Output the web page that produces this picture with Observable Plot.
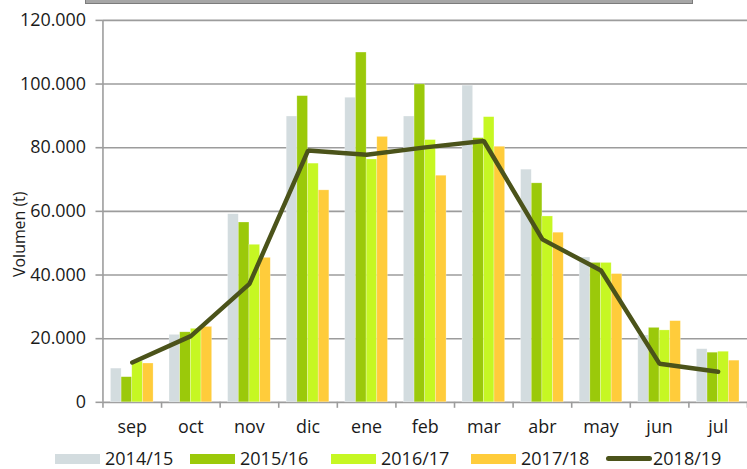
<!DOCTYPE html>
<html>
<head>
<meta charset="utf-8">
<script src="https://cdn.jsdelivr.net/npm/d3@7"></script>
<script src="https://cdn.jsdelivr.net/npm/@observablehq/plot@0.6"></script>
<style>
  html, body { margin: 0; padding: 0; background: #fff; }
  #wrap { position: relative; width: 747px; height: 469px; overflow: hidden; font-family: "Open Sans", sans-serif; color: #1a1a1a; }
  #topbox { position: absolute; left: 85px; top: -4px; width: 606px; height: 6px; background: #a6a6a6; border: 1.5px solid #7c7c7c; }
  #legend { position: absolute; left: 0; top: 448px; width: 747px; height: 21px; font-size: 18px; line-height: 21px; }
  .item { position: absolute; top: 0; display: flex; align-items: center; gap: 5px; height: 21px; white-space: nowrap; }
  .sw { width: 45px; height: 10px; }
  .ln { width: 46px; height: 5px; border-radius: 3px; }
</style>
</head>
<body>
<div id="wrap">
  <div id="chart"></div>
  <div id="topbox"></div>
  <div id="legend"></div>
</div>
<script>
const months = ["sep","oct","nov","dic","ene","feb","mar","abr","may","jun","jul"];
const seriesNames = ["2014/15","2015/16","2016/17","2017/18"];
const lineName = "2018/19";
const v1415 = [10600, 21200, 59100, 89800, 95700, 89800, 99500, 73100, 45500, 21000, 16700];
const v1516 = [7900, 22000, 56500, 96200, 109900, 99900, 83000, 68800, 43800, 23400, 15600];
const v1617 = [12800, 23100, 49500, 75000, 76300, 82400, 89600, 58400, 43800, 22600, 15900];
const v1718 = [12200, 23700, 45400, 66600, 83400, 71200, 80300, 53300, 40300, 25500, 13100];
const v1819 = [12500, 20800, 37200, 79100, 77800, 80100, 82100, 51200, 41400, 12100, 9600];
const yTicks = [0, 20000, 40000, 60000, 80000, 100000, 120000];

const barColors = ["#d3dcdf", "#9bc90a", "#c6f723", "#ffcc3b"];
const lineColor = "#4b531a";
const gridColor = "#9c9c9c";

const seriesValues = [v1415, v1516, v1617, v1718];
const pad = 0.136, bw = 0.182;
const bars = [];
seriesValues.forEach((vals, k) => {
  vals.forEach((v, i) => {
    const x1 = i - 0.5 + pad + k * bw;
    bars.push({series: seriesNames[k], month: months[i], x1, x2: x1 + bw, value: v});
  });
});
const lineData = v1819.map((v, i) => ({i, value: v}));
const boundaries = d3.range(months.length + 1).map(i => i - 0.5);

const fmt = d3.formatLocale({decimal: ",", thousands: ".", grouping: [3], currency: ["", "€"]}).format(",");

const chart = Plot.plot({
  width: 751,
  height: 446,
  marginLeft: 103,
  marginRight: 0,
  marginTop: 20,
  marginBottom: 42,
  x: {domain: [-0.5, months.length - 0.5], axis: null},
  y: {domain: [0, 120000], axis: null},
  color: {domain: seriesNames, range: barColors},
  style: {fontFamily: "'Open Sans', sans-serif", fontSize: "18px", color: "#1a1a1a", background: "transparent", overflow: "visible"},
  marks: [
    Plot.gridY(yTicks, {stroke: gridColor, strokeOpacity: 1, strokeWidth: 1.6}),
    Plot.rectY(bars, {x1: "x1", x2: "x2", y: "value", fill: "series", stroke: "#ffffff", strokeOpacity: 0.45, strokeWidth: 0.6}),
    Plot.line(lineData, {x: "i", y: "value", stroke: lineColor, strokeWidth: 4.5, strokeLinecap: "round", strokeLinejoin: "miter"}),
    Plot.ruleX([-0.5], {y1: 0, y2: 120000, stroke: gridColor, strokeWidth: 1.6}),
    Plot.axisY(yTicks, {label: null, tickSize: 7, tickPadding: 10, tickFormat: fmt, stroke: gridColor, strokeWidth: 1.6, fontSize: 18}),
    Plot.axisX(boundaries, {label: null, tickSize: 6, tickFormat: () => "", stroke: gridColor, strokeWidth: 1.6}),
    Plot.axisX(d3.range(months.length), {label: null, tickSize: 0, tickPadding: 18, tickFormat: i => months[i], fontSize: 18}),
    Plot.text(["Volumen (t)"], {frameAnchor: "left", rotate: -90, textAnchor: "middle", dx: -83, dy: 23, fontSize: 16, fill: "#1a1a1a"})
  ]
});
document.getElementById("chart").appendChild(chart);

const legend = document.getElementById("legend");
const legendLeft = [55, 190, 331, 471];
seriesNames.forEach((name, k) => {
  const it = document.createElement("div");
  it.className = "item";
  it.style.left = legendLeft[k] + "px";
  it.innerHTML = `<div class="sw" style="background:${barColors[k]}"></div><span>${name}</span>`;
  legend.appendChild(it);
});
const li = document.createElement("div");
li.className = "item";
li.style.left = "606px";
li.style.gap = "1px";
li.innerHTML = `<div class="ln" style="background:${lineColor}"></div><span>${lineName}</span>`;
legend.appendChild(li);
</script>
</body>
</html>
